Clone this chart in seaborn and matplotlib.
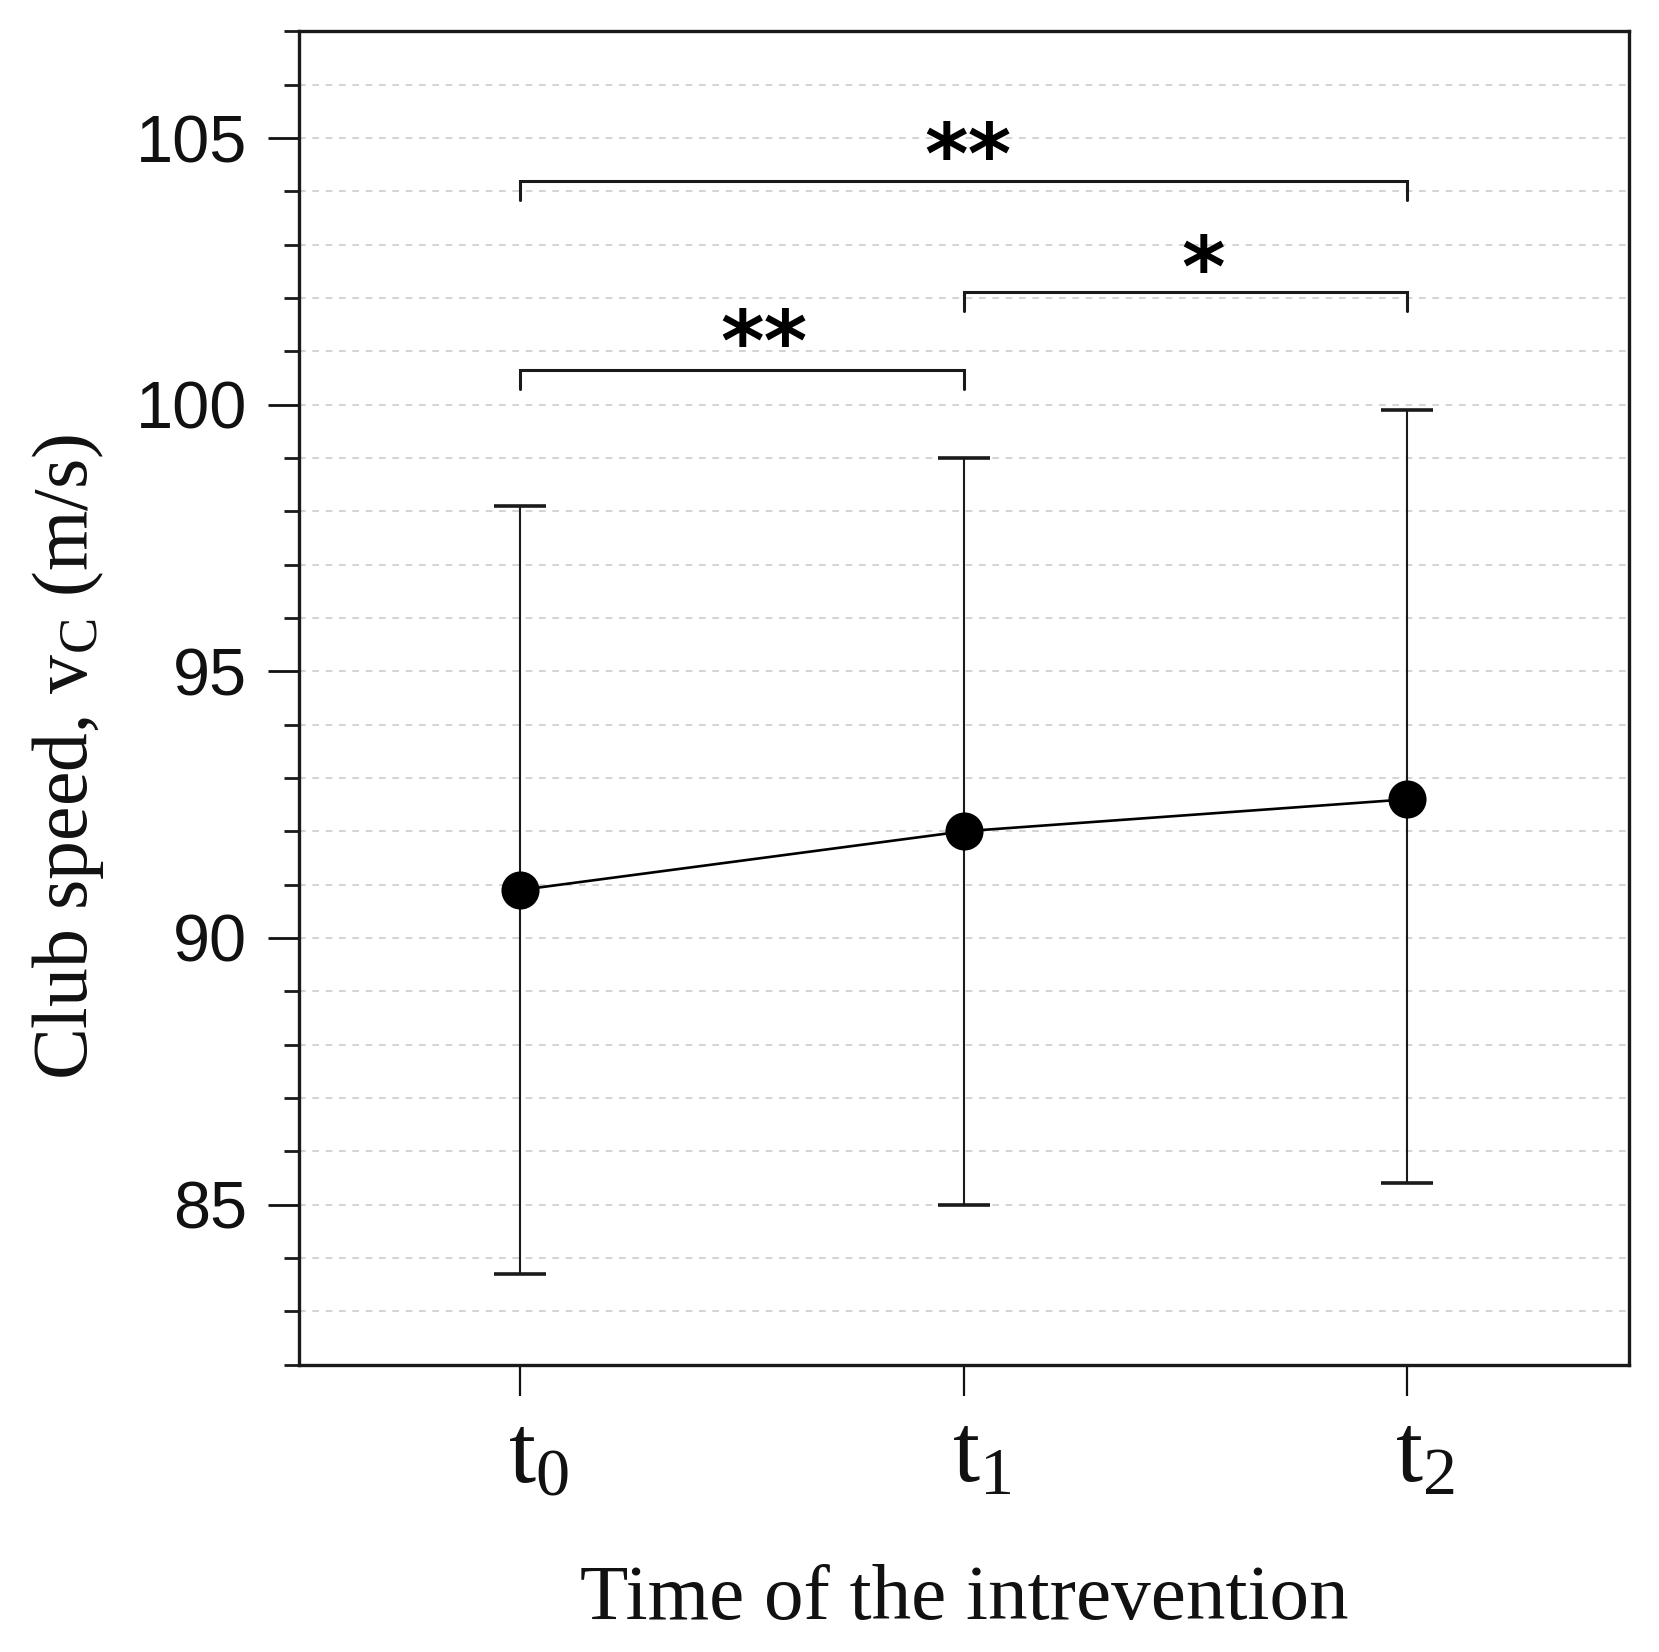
import numpy as np
import pandas as pd
import matplotlib
matplotlib.use("Agg")
import matplotlib.pyplot as plt
import matplotlib.transforms as mtransforms
from matplotlib.ticker import MultipleLocator
import seaborn as sns

# values
times = ["t0", "t1", "t2"]
tick_labels = [r"$\mathrm{t}_{0}$", r"$\mathrm{t}_{1}$", r"$\mathrm{t}_{2}$"]
means = [90.9, 92.0, 92.6]
err_low = [7.2, 7.0, 7.2]
err_high = [7.2, 7.0, 7.3]

# significance brackets: left, right, height, label, label position
brackets_x0 = [0.0, 1.0, 0.0]
brackets_x1 = [2.0, 2.0, 1.0]
brackets_y = [104.2, 102.12, 100.65]
brackets_lab = ["**", "*", "**"]
lab_x = [1.01, 1.54, 0.55]
lab_y = [104.6, 102.48, 101.1]

df = pd.DataFrame({"time": times, "speed": means})

sns.set_theme(style="white")
plt.rcParams["font.family"] = ["Liberation Sans", "DejaVu Sans"]
plt.rcParams["mathtext.fontset"] = "custom"
plt.rcParams["mathtext.rm"] = "Liberation Serif"
plt.rcParams["mathtext.it"] = "Liberation Serif:italic"

fig = plt.figure(figsize=(16.59, 16.52), dpi=100)
ax = fig.add_axes([0.180, 0.174, 0.802, 0.807])

ax.errorbar(range(len(times)), means, yerr=[err_low, err_high], fmt="none",
            ecolor="#1a1a1a", elinewidth=1.5, capsize=19, capthick=2.6, zorder=2)
sns.pointplot(data=df, x="time", y="speed", color="black", markers="o",
              markersize=26, linewidth=1.9, errorbar=None, ax=ax, zorder=3)

# brackets
drop = 0.36
for x0, x1, y in zip(brackets_x0, brackets_x1, brackets_y):
    ax.plot([x0, x0, x1, x1], [y - drop, y, y, y - drop], color="#1a1a1a",
            lw=2.2, solid_joinstyle="miter", zorder=3)
for x, y, lab in zip(lab_x, lab_y, brackets_lab):
    ax.text(x, y, lab, ha="center", va="center", color="black",
            fontsize=60, fontweight="bold", family="DejaVu Sans")

ax.set_xlim(-0.5, 2.5)
ax.set_ylim(82, 107)
ax.yaxis.set_major_locator(MultipleLocator(5))
ax.yaxis.set_minor_locator(MultipleLocator(1))
ax.grid(which="both", axis="y", ls=(0, (4, 4)), color="#cccccc", lw=1.2)
ax.grid(False, axis="x")
ax.set_axisbelow(True)

for s in ax.spines.values():
    s.set_linewidth(2.4)
    s.set_color("#1a1a1a")

ax.tick_params(axis="y", which="major", direction="out", length=22, width=2,
               pad=15, labelsize=48, left=True, colors="#111111")
ax.tick_params(axis="y", which="minor", direction="out", length=11, width=2,
               left=True, color="#1a1a1a")
ax.tick_params(axis="x", which="major", direction="out", length=22, width=1.6,
               pad=12, labelsize=70, bottom=True, colors="#111111")
ax.set_xticks(range(len(times)))
ax.set_xticklabels(tick_labels)
offset = mtransforms.ScaledTranslation(18 / 100, 0, fig.dpi_scale_trans)
for lbl in ax.get_xticklabels():
    lbl.set_transform(lbl.get_transform() + offset)

ax.set_xlabel("Time of the intrevention", fontsize=57, family="Liberation Serif",
              color="#111111")
ax.set_ylabel(r"Club speed, v$_{\mathrm{C}}$ (m/s)", fontsize=56,
              family="Liberation Serif", color="#111111")
ax.xaxis.set_label_coords(0.5, -0.15)
ax.yaxis.set_label_coords(-0.145, 0.456)

fig.savefig("out.png", dpi=100, facecolor="white")
